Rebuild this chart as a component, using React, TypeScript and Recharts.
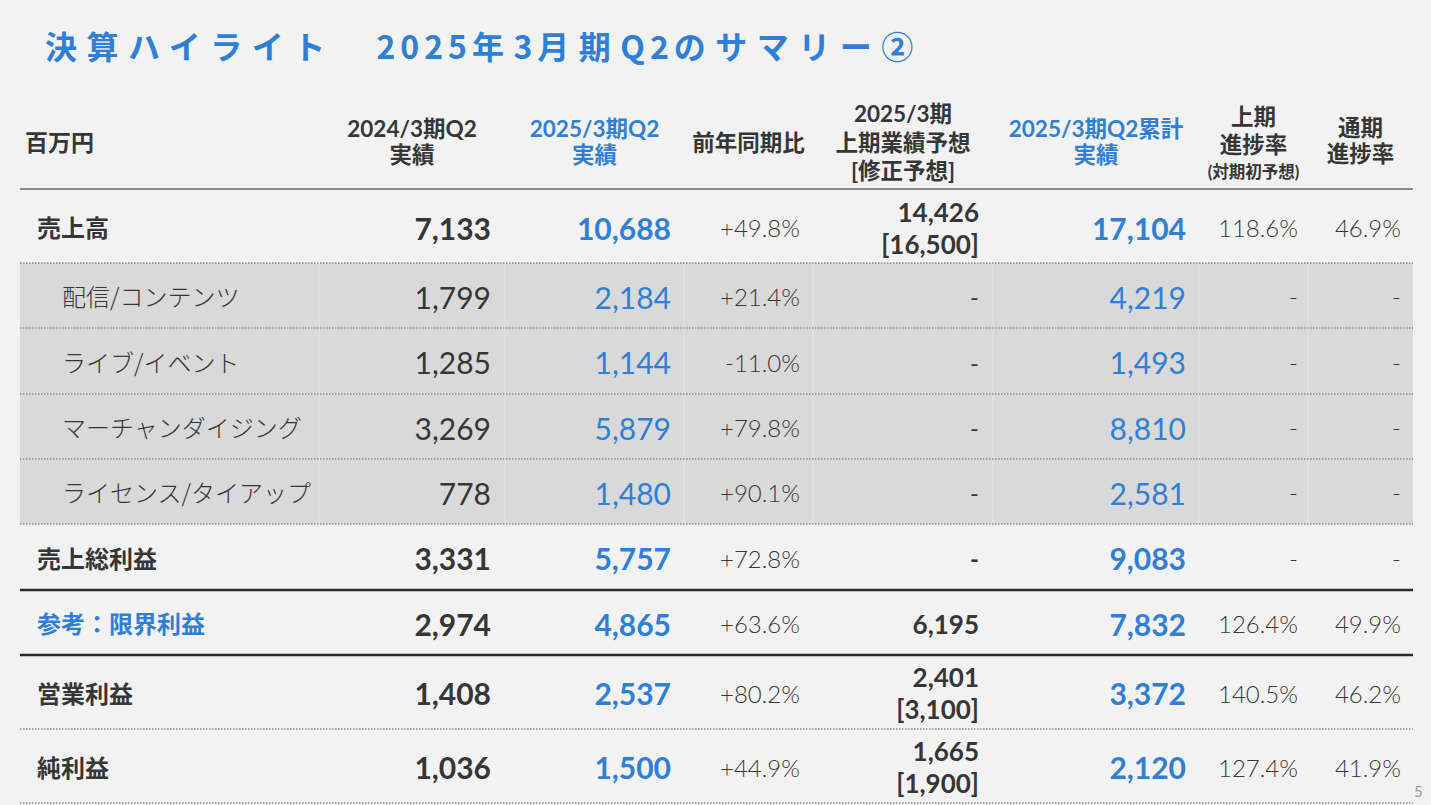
import React from 'react';
import {
  ComposedChart,
  XAxis,
  YAxis,
  Scatter,
  ReferenceArea,
  ReferenceLine,
} from 'recharts';

// 百万円
const rowLabels = [
  '売上高',
  '配信/コンテンツ',
  'ライブ/イベント',
  'マーチャンダイジング',
  'ライセンス/タイアップ',
  '売上総利益',
  '参考：限界利益',
  '営業利益',
  '純利益',
];
const rowKinds = ['main', 'sub', 'sub', 'sub', 'sub', 'main', 'ref', 'main', 'main'];
const prevQ2 = [7133, 1799, 1285, 3269, 778, 3331, 2974, 1408, 1036];
const currQ2 = [10688, 2184, 1144, 5879, 1480, 5757, 4865, 2537, 1500];
const yoyPct = [49.8, 21.4, -11.0, 79.8, 90.1, 72.8, 63.6, 80.2, 44.9];
const h1Forecast = [14426, null, null, null, null, null, 6195, 2401, 1665];
const h1Revised = [16500, null, null, null, null, null, null, 3100, 1900];
const cumQ2 = [17104, 4219, 1493, 8810, 2581, 9083, 7832, 3372, 2120];
const h1Progress = [118.6, null, null, null, null, null, 126.4, 140.5, 127.4];
const fyProgress = [46.9, null, null, null, null, null, 49.9, 46.2, 41.9];

const headerLines = [
  ['2024/3期Q2', '実績'],
  ['2025/3期Q2', '実績'],
  ['前年同期比'],
  ['2025/3期', '上期業績予想', '[修正予想]'],
  ['2025/3期Q2累計', '実績'],
  ['上期', '進捗率', '(対期初予想)'],
  ['通期', '進捗率'],
];

const titleParts: [string, boolean][] = [
  ['決算ハイライト　', true],
  ['2025', false],
  ['年', true],
  ['3', false],
  ['月期', true],
  ['Q2', false],
  ['のサマリー②', true],
];

// layout
const W = 1431;
const H = 805;
const COL_EDGES = [20, 319, 505, 684, 813, 993, 1199, 1308, 1413];
const COL_PAD = [14, 13, 13, 14, 13, 10, 12];
const ROW_EDGES = [190, 263, 328, 394, 459, 524, 590, 655, 729, 803];
const HEADER_Y = [
  [128, 154],
  [128, 154],
  [142],
  [113, 142, 170],
  [128, 154],
  [116, 144, 172],
  [127, 153],
];
const BLUE = '#2f7fd6';
const DARK = '#363636';
const NUM_FONT = "Lato, 'Noto Sans', sans-serif";
const JP_FONT = "'Noto Sans CJK JP', 'Noto Sans', sans-serif";
const HEAD_FONT = "Lato, 'Noto Sans CJK JP', sans-serif";

const fmt = (v: number) => v.toLocaleString('en-US');
const pct = (v: number) => `${v.toFixed(1)}%`;
const signed = (v: number) => `${v >= 0 ? '+' : ''}${v.toFixed(1)}%`;

type Cell = {
  x: number;
  y: number;
  text: string;
  size: number;
  weight: number;
  color: string;
  font: string;
  anchor: 'start' | 'middle' | 'end';
};

// data column c sits between COL_EDGES[c + 1] and COL_EDGES[c + 2]
const colRight = (c: number) => COL_EDGES[c + 2] - COL_PAD[c];
const colMid = (c: number) => (COL_EDGES[c + 1] + COL_EDGES[c + 2]) / 2;
const rowMid = (r: number) => (ROW_EDGES[r] + ROW_EDGES[r + 1]) / 2;

const cells: Cell[] = [];

// header
cells.push({ x: 25, y: 141, text: '百万円', size: 23, weight: 700, color: DARK, font: JP_FONT, anchor: 'start' });
headerLines.forEach((lines, c) => {
  lines.forEach((t, i) => {
    const small = t.startsWith('(');
    cells.push({
      x: colMid(c),
      y: HEADER_Y[c][i],
      text: t,
      size: small ? 16.5 : 22.5,
      weight: 700,
      color: c === 1 || c === 4 ? BLUE : DARK,
      font: HEAD_FONT,
      anchor: 'middle',
    });
  });
});

// body
rowLabels.forEach((label, r) => {
  const kind = rowKinds[r];
  const bold = kind !== 'sub';
  const cy = rowMid(r);
  cells.push({
    x: kind === 'sub' ? 62 : 37,
    y: cy,
    text: label,
    size: 24,
    weight: bold ? 700 : 300,
    color: kind === 'ref' ? BLUE : DARK,
    font: JP_FONT,
    anchor: 'start',
  });
  const big = (c: number, v: number, color: string) =>
    cells.push({ x: colRight(c), y: cy + 1, text: fmt(v), size: 30, weight: bold ? 700 : 400, color, font: NUM_FONT, anchor: 'end' });
  const small = (c: number, t: string, yy = cy + 1, w = 400, size = 24) =>
    cells.push({ x: colRight(c), y: yy, text: t, size, weight: w, color: DARK, font: NUM_FONT, anchor: 'end' });

  big(0, prevQ2[r], DARK);
  big(1, currQ2[r], BLUE);
  small(2, signed(yoyPct[r]), cy + 1, 300);
  const f = h1Forecast[r];
  const rv = h1Revised[r];
  if (f != null && rv != null) {
    small(3, fmt(f), cy - 15, 700, 26);
    small(3, `[${fmt(rv)}]`, cy + 17, 700, 26);
  } else if (f != null) {
    small(3, fmt(f), cy + 1, 700, 26);
  } else {
    small(3, '-', cy + 1, bold ? 700 : 400, 24);
  }
  big(4, cumQ2[r], BLUE);
  const p1 = h1Progress[r];
  const p2 = fyProgress[r];
  small(5, p1 != null ? pct(p1) : '-', cy + 1, 300);
  small(6, p2 != null ? pct(p2) : '-', cy + 1, 300);
});

const CellText = (props: any) => {
  const { cx, cy, payload } = props;
  const d = payload as Cell;
  return (
    <text
      x={cx}
      y={cy}
      textAnchor={d.anchor}
      dominantBaseline="central"
      fontSize={d.size}
      fontWeight={d.weight}
      fill={d.color}
      fontFamily={d.font}
    >
      {d.text}
    </text>
  );
};

const dotted = { stroke: '#8c8c8c', strokeWidth: 1.5, strokeDasharray: '1.5 1.5' };
const left = COL_EDGES[0];
const right = COL_EDGES[COL_EDGES.length - 1];
const hline = (y: number) => [{ x: left, y }, { x: right, y }];

export default function App() {
  return (
    <div style={{ position: 'fixed', left: 0, top: 0, width: W, height: H, background: '#f2f2f2', overflow: 'hidden' }}>
      <div
        style={{
          position: 'absolute',
          left: 45,
          top: 22,
          fontFamily: JP_FONT,
          fontWeight: 700,
          fontSize: 32,
          color: BLUE,
          whiteSpace: 'pre',
          lineHeight: '46px',
        }}
      >
        {titleParts.map(([t, wide], i) => (
          <span key={i} style={{ letterSpacing: wide ? 9.5 : 5 }}>
            {t}
          </span>
        ))}
      </div>
      <div style={{ position: 'absolute', left: 0, top: 0 }}>
        <ComposedChart width={W} height={H} margin={{ top: 0, right: 0, bottom: 0, left: 0 }}>
          <XAxis type="number" dataKey="x" domain={[0, W]} allowDataOverflow hide />
          <YAxis type="number" dataKey="y" domain={[0, H]} allowDataOverflow reversed hide />
          <ReferenceArea x1={left} x2={right} y1={ROW_EDGES[1]} y2={ROW_EDGES[5]} fill="#d9d9d9" fillOpacity={1} stroke="none" />
          {COL_EDGES.slice(1, -1).map((x) => (
            <ReferenceLine key={x} segment={[{ x, y: ROW_EDGES[1] }, { x, y: ROW_EDGES[5] }]} stroke="#e6e6e6" strokeWidth={1} />
          ))}
          <ReferenceLine segment={hline(189)} stroke="#8a8a8a" strokeWidth={2} />
          {[1, 2, 3, 4, 5, 8, 9].map((i) => (
            <ReferenceLine key={i} segment={hline(ROW_EDGES[i])} {...dotted} />
          ))}
          <ReferenceLine segment={hline(ROW_EDGES[6])} stroke="#2b2b2b" strokeWidth={2.5} />
          <ReferenceLine segment={hline(ROW_EDGES[7])} stroke="#2b2b2b" strokeWidth={2.5} />
          <Scatter data={cells} shape={CellText} isAnimationActive={false} />
        </ComposedChart>
      </div>
      <div style={{ position: 'absolute', left: 1414, top: 782, fontFamily: NUM_FONT, fontSize: 15, color: '#9a9a9a' }}>5</div>
    </div>
  );
}
